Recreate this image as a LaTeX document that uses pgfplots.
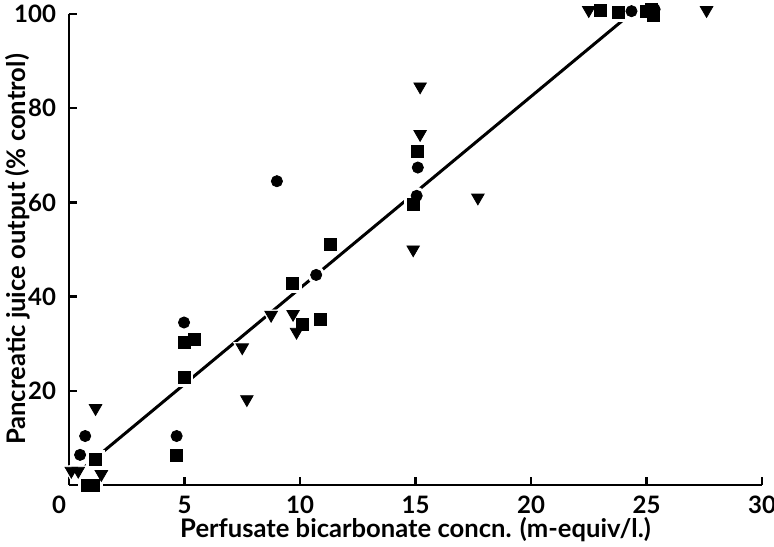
\documentclass[border=0pt]{standalone}
\usepackage{fontspec}
\setmainfont{Lato}
\usepackage{pgfplots}
\pgfplotsset{compat=1.18}

\pgfplotstableread{
x y
0.48 6.4
0.70 10.4
4.66 10.4
4.98 34.5
9.00 64.5
10.70 44.6
15.10 67.4
15.05 61.4
24.35 100.6
25.35 101.0
}\circdata

\pgfplotstableread{
x y
1.13 5.5
0.80 0.0
1.05 0.0
4.66 6.2
4.98 22.9
4.98 30.2
5.45 31.0
9.67 42.7
10.10 34.2
10.90 35.2
11.30 51.0
15.10 70.8
14.90 59.6
23.00 100.8
23.80 100.3
25.00 100.6
25.30 99.6
25.20 101.0
}\sqdata

\pgfplotstableread{
x y
0.10 3.0
0.40 3.0
1.40 2.3
1.15 16.3
7.50 29.2
7.70 18.2
8.75 36.1
9.70 36.3
9.85 32.5
14.90 50.0
15.20 84.6
15.20 74.5
17.70 61.0
22.50 100.8
27.60 100.8
}\tridata

\begin{document}
\begin{tikzpicture}
\useasboundingbox (-34.5pt,-30.5pt) rectangle (352.5pt,242.5pt);
\begin{axis}[
  scale only axis,
  width=346.5pt, height=235.5pt,
  xmin=0, xmax=30, ymin=0, ymax=100,
  axis lines=left,
  axis line style={line width=1.4pt, -},
  clip=false,
  tick align=inside,
  major tick length=4pt,
  tick style={line width=1.2pt, black},
  xtick={5,10,...,30},
  ytick={20,40,...,100},
  extra x ticks={0},
  extra x tick style={major tick length=0pt, tick label style={xshift=-5pt}},
  tick label style={font=\large\bfseries},
  /pgf/number format/assume math mode=true,
  xticklabel style={yshift=-2pt},
  yticklabel style={xshift=-3pt},
  xlabel={Perfusate bicarbonate concn. (m-equiv/l.)},
  ylabel={Pancreatic juice output (\% control)},
  label style={font=\fontsize{12.8}{15}\selectfont\bfseries},
  xlabel style={yshift=5pt},
  ylabel style={at={([xshift=-25.5pt]axis description cs:0,0.5)}, anchor=center},
]
\addplot[black, line width=1.5pt] coordinates {(0.5,3.1) (24.4,100.4)};
% white halos so the fitted line breaks round the points
\addplot[only marks, mark=*, mark size=4.2pt, white] table {\circdata};
\addplot[only marks, mark=square*, mark size=4.4pt, white] table {\sqdata};
\addplot[only marks, mark=triangle*, mark size=5pt, white, mark options={rotate=180}] table {\tridata};
\addplot[only marks, mark=*, mark size=2.8pt, black] table {\circdata};
\addplot[only marks, mark=square*, mark size=3pt, black] table {\sqdata};
\addplot[only marks, mark=triangle*, mark size=3.6pt, black, mark options={rotate=180}] table {\tridata};
\end{axis}
\end{tikzpicture}
\end{document}
